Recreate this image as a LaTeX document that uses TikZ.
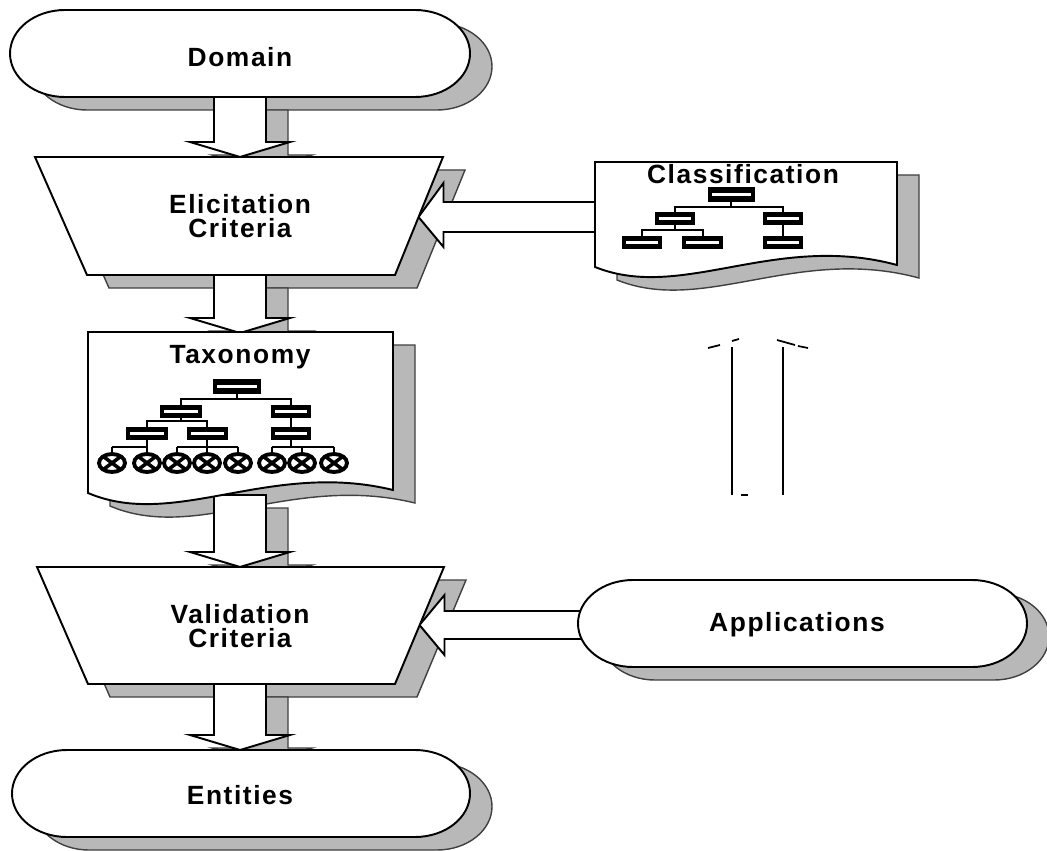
\documentclass[tikz,border=0pt]{standalone}
\usepackage{fontspec}
\usetikzlibrary{calc}
\newfontfamily\lblfont{Liberation Sans}[LetterSpace=6]
\newcommand\lbl{\lblfont\bfseries\fontsize{15}{13.5}\selectfont}

% terminator outline: left, top, right, bottom
\newcommand\termpath[4]{({#1+55},#2) -- ({#3-55},#2)
  arc[start angle=-90,end angle=90,x radius=55,y radius={(#4-#2)/2}]
  -- ({#1+55},#4)
  arc[start angle=90,end angle=270,x radius=55,y radius={(#4-#2)/2}] -- cycle}
% trapezoid: top-left x, top-right x, bottom-left x, bottom-right x, top y, bottom y
\newcommand\trappath[6]{(#1,#5) -- (#2,#5) -- (#4,#6) -- (#3,#6) -- cycle}
% document sheet with a wavy lower edge
\newcommand\taxpath{(88,332) -- (393,332) -- (393,490)
  .. controls (270,460) and (175,530) .. (88,493) -- cycle}
\newcommand\clspath{(595,162) -- (897,162) -- (897,265)
  .. controls (775,232) and (682,302) .. (595,267) -- cycle}
% small chart box
\newcommand\minibox[4]{%
  \fill[black] (#1,#2) rectangle (#3,#4);
  \fill[white] ({#1+4},{(#2+#4)/2-1.2}) rectangle ({#3-4},{(#2+#4)/2+1.2});}
% leaf symbol
\newcommand\leaf[1]{%
  \draw[line width=2.2pt,fill=white] (#1,463) ellipse[x radius=13,y radius=9];
  \draw[line width=2pt] ({#1-8},457) -- ({#1+8},469) ({#1-8},469) -- ({#1+8},457);
  \draw[line width=1.1pt] (#1,447) -- (#1,454);}

\tikzset{
  outline/.style={draw=black,line width=1.1pt,fill=white,line join=miter},
  shade/.style={fill=black!28,draw=black!75,line width=0.8pt},
  lbltext/.style={font=\lbl,align=center,inner sep=0pt},
  treeline/.style={line width=1.2pt},
  thinline/.style={line width=1pt}
}

\begin{document}
\begin{tikzpicture}[x=0.02cm,y=-0.02cm]
\useasboundingbox (0,0) rectangle (1047,851);

% anchor points of the block arrows
\coordinate (dom-s) at (240,97);
\coordinate (eli-n) at (240,157);
\coordinate (eli-s) at (240,275);
\coordinate (tax-n) at (240,333);
\coordinate (tax-s) at (240,495);
\coordinate (val-n) at (240,567);
\coordinate (val-s) at (240,684);
\coordinate (ent-n) at (240,750);
\coordinate (eli-e) at (418.5,217);
\coordinate (cls-w) at (605,217);
\coordinate (val-e) at (419.5,625);
\coordinate (app-w) at (595,625);
\coordinate (up-tail) at (757,495);
\coordinate (up-tip) at (757,335);

% drop shadows
\begin{scope}[shift={(22,13)}]
  \filldraw[shade] \termpath{10}{10}{470}{97};
  \filldraw[shade] \trappath{35}{443}{87}{395}{157}{275};
  \filldraw[shade] \taxpath;
  \filldraw[shade] \trappath{37}{444}{88}{395}{567}{684};
  \filldraw[shade] \termpath{12}{750}{470}{837};
  \filldraw[shade] \clspath;
  \filldraw[shade] \termpath{578}{580}{1027}{667};
\end{scope}

% downward block arrows
\foreach \a/\b in {dom-s/eli-n, eli-s/tax-n, tax-s/val-n, val-s/ent-n} {
  \filldraw[shade] ($(\a)+(-4,13)$) -- ($(\b)+(-4,-2)$) -- ($(\b)+(-28,-2)$)
     -- ($(\b)+(22,13)$) -- ($(\b)+(72,-2)$) -- ($(\b)+(48,-2)$)
     -- ($(\a)+(48,13)$) -- cycle;
}
\foreach \a/\b in {dom-s/eli-n, eli-s/tax-n, tax-s/val-n, val-s/ent-n} {
  \draw[outline] ($(\a)+(-26,0)$) -- ($(\b)+(-26,-15)$) -- ($(\b)+(-50,-15)$)
     -- (\b) -- ($(\b)+(50,-15)$) -- ($(\b)+(26,-15)$)
     -- ($(\a)+(26,0)$) -- cycle;
}

% leftward block arrows
\draw[outline] ($(cls-w)+(0,-15)$) -- ($(eli-e)+(25,-15)$) -- ($(eli-e)+(25,-34)$)
   -- (eli-e) -- ($(eli-e)+(25,30)$) -- ($(eli-e)+(25,15)$) -- ($(cls-w)+(0,15)$) -- cycle;
\draw[outline] ($(app-w)+(0,-14)$) -- ($(val-e)+(25,-14)$) -- ($(val-e)+(25,-30)$)
   -- (val-e) -- ($(val-e)+(25,30)$) -- ($(val-e)+(25,14)$) -- ($(app-w)+(0,14)$) -- cycle;

% shape bodies
\draw[outline] \termpath{10}{10}{470}{97};
\draw[outline] \trappath{35}{443}{87}{395}{157}{275};
\draw[outline] \taxpath;
\draw[outline] \trappath{37}{444}{88}{395}{567}{684};
\draw[outline] \termpath{12}{750}{470}{837};
\draw[outline] \clspath;
\draw[outline] \termpath{578}{580}{1027}{667};

% broken upward arrow
\draw[thinline] ($(up-tail)+(-25,0)$) -- ($(up-tip)+(-25,12)$);
\draw[thinline] ($(up-tail)+(26,0)$) -- ($(up-tip)+(26,12)$);
\draw[thinline] ($(up-tip)+(-49,13)$) -- ($(up-tip)+(-37,10)$);
\draw[thinline] ($(up-tip)+(-25,6)$) -- ($(up-tip)+(-18,4)$);
\draw[thinline] ($(up-tip)+(20,5)$) -- ($(up-tip)+(38,10)$);
\draw[thinline] ($(up-tip)+(41,11)$) -- ($(up-tip)+(51,13)$);
\draw[thinline] ($(up-tail)+(-16,0)$) -- ($(up-tail)+(-9,0)$);

% labels
\node[lbltext] (dom) at (240,57) {Domain};
\node[lbltext] (eli) at (240,216) {Elicitation\\Criteria};
\node[lbltext] (tax) at (240,357) {Taxonomy};
\node[lbltext] (val) at (240,626) {Validation\\Criteria};
\node[lbltext] (ent) at (240,795) {Entities};
\node[lbltext] (cls) at (743,174) {Classification};
\node[lbltext] (app) at (797,625) {Applications};

% taxonomy chart
\draw[treeline] (237,394) -- (237,399) (181,405) |- (291,399) -- (291,405);
\draw[treeline] (181,417) -- (181,421) (147,427) |- (207,421) -- (207,427);
\draw[treeline] (291,417) -- (291,427);
\draw[treeline] (147,440) -- (147,447) (112,447) -- (147,447);
\draw[treeline] (207,440) -- (207,447) (177,447) -- (238,447);
\draw[treeline] (291,440) -- (291,447) (272,447) -- (334,447);
\minibox{213}{379}{261}{394}
\minibox{160}{405}{202}{418}
\minibox{271}{405}{311}{418}
\minibox{126}{427}{168}{440}
\minibox{187}{427}{228}{440}
\minibox{271}{427}{311}{440}
\foreach \x in {112,147,177,207,238,272,302,334} { \leaf{\x} }

% classification chart
\draw[treeline] (731,202) -- (731,207) (675,212) |- (783,207) -- (783,212);
\draw[treeline] (675,225) -- (675,230) (642,236) |- (703,230) -- (703,236);
\draw[treeline] (783,225) -- (783,236);
\minibox{708}{187}{755}{202}
\minibox{655}{212}{695}{225}
\minibox{763}{212}{803}{225}
\minibox{622}{236}{662}{249}
\minibox{682}{236}{723}{249}
\minibox{763}{236}{803}{249}
\end{tikzpicture}
\end{document}
